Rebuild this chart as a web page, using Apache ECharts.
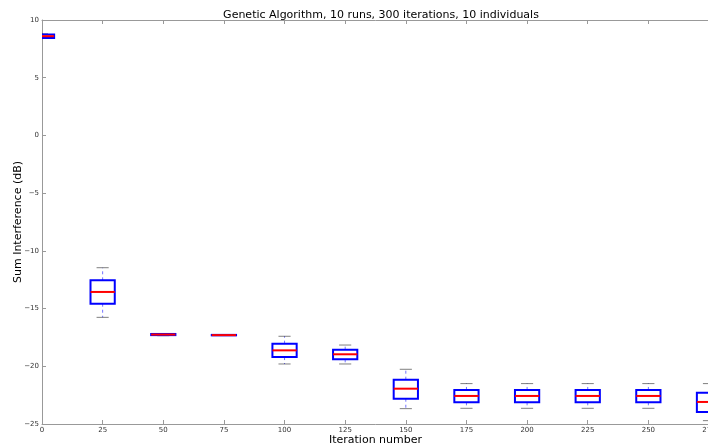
<!DOCTYPE html>
<html><head><meta charset="utf-8">
<script src="https://cdn.jsdelivr.net/npm/echarts@6/dist/echarts.min.js"></script>
<style>html,body{margin:0;padding:0;background:#fff}#c{width:708px;height:447px}</style>
</head><body><div id="c"></div>
<script>
const positions   = [0, 25, 50, 75, 100, 125, 150, 175, 200, 225, 250, 275];
const whiskerLow  = [8.40, -15.76, -17.35, -17.33, -19.80, -19.80, -23.67, -23.64, -23.64, -23.64, -23.64, -24.71];
const q1          = [8.45, -14.58, -17.30, -17.32, -19.20, -19.40, -22.81, -23.12, -23.12, -23.12, -23.12, -23.96];
const medians     = [8.60, -13.56, -17.25, -17.30, -18.62, -18.96, -21.94, -22.57, -22.57, -22.57, -22.57, -23.09];
const q3          = [8.75, -12.55, -17.20, -17.28, -18.04, -18.56, -21.16, -22.05, -22.05, -22.05, -22.05, -22.29];
const whiskerHigh = [8.80, -11.46, -17.18, -17.27, -17.40, -18.16, -20.26, -21.50, -21.50, -21.50, -21.50, -21.50];
const xTicks = [0, 25, 50, 75, 100, 125, 150, 175, 200, 225, 250, 275];
const yTicks = [-25, -20, -15, -10, -5, 0, 5, 10];
const boxWidth = 10;

const data = positions.map((p, i) => [p, whiskerLow[i], q1[i], medians[i], q3[i], whiskerHigh[i]]);
const FONT = 'DejaVu Sans';
const minus = v => String(v).replace('-', '\u2212');

const chart = echarts.init(document.getElementById('c'), null, {renderer: 'canvas'});
chart.setOption({
  animation: false,
  backgroundColor: '#fff',
  title: {
    text: 'Genetic Algorithm, 10 runs, 300 iterations, 10 individuals',
    left: 376, top: 5, textAlign: 'center',
    textStyle: {fontFamily: FONT, fontSize: 11, fontWeight: 'normal', color: '#000'}
  },
  grid: {left: 42, top: 20, width: 667, height: 404, containLabel: false, outerBoundsMode: 'none'},
  xAxis: [{
    type: 'value', min: 0, max: 275, interval: 25, position: 'bottom',
    name: 'Iteration number', nameLocation: 'middle', nameGap: 11, nameMoveOverlap: false,
    nameTextStyle: {fontFamily: FONT, fontSize: 11, color: '#000', verticalAlign: 'top'},
    axisLine: {show: true, onZero: false, lineStyle: {color: '#999', width: 1}},
    axisTick: {show: true, inside: true, length: 4, lineStyle: {color: '#999'}},
    axisLabel: {fontFamily: FONT, fontSize: 7, color: '#333', margin: 3,
      customValues: xTicks, formatter: v => minus(v)},
    splitLine: {show: false}
  }, {
    type: 'value', min: 0, max: 275, interval: 25, position: 'top',
    axisLine: {show: true, onZero: false, lineStyle: {color: '#999', width: 1}},
    axisTick: {show: true, inside: true, length: 4, lineStyle: {color: '#999'}},
    axisLabel: {show: false}, splitLine: {show: false}
  }],
  yAxis: [{
    type: 'value', min: -25, max: 10, interval: 5,
    name: 'Sum Interference (dB)', nameLocation: 'middle', nameGap: 18, nameRotate: 90,
    nameMoveOverlap: false,
    nameTextStyle: {fontFamily: FONT, fontSize: 11, color: '#000', verticalAlign: 'bottom'},
    axisLine: {show: true, onZero: false, lineStyle: {color: '#999', width: 1}},
    axisTick: {show: true, inside: true, length: 4, lineStyle: {color: '#999'}},
    axisLabel: {fontFamily: FONT, fontSize: 7, color: '#333', margin: 3,
      customValues: yTicks, formatter: v => minus(v)},
    splitLine: {show: false}
  }],
  series: [{
    type: 'custom',
    clip: true,
    data: data,
    encode: {x: 0, y: [1, 2, 3, 4, 5]},
    renderItem: function (params, api) {
      const x = api.value(0);
      const w = api.size([boxWidth, 0])[0];
      const cw = w / 2;
      const pLow = api.coord([x, api.value(1)]);
      const pQ1 = api.coord([x, api.value(2)]);
      const pMed = api.coord([x, api.value(3)]);
      const pQ3 = api.coord([x, api.value(4)]);
      const pHigh = api.coord([x, api.value(5)]);
      const cx = pQ1[0];
      const dash = {stroke: '#0000ff', lineWidth: 1, lineDash: [3, 3], opacity: 0.55};
      const cap = {stroke: '#000', lineWidth: 1, opacity: 0.5};
      return {
        type: 'group',
        children: [
          {type: 'line', shape: {x1: cx, y1: pQ1[1], x2: cx, y2: pLow[1]}, style: dash},
          {type: 'line', shape: {x1: cx, y1: pQ3[1], x2: cx, y2: pHigh[1]}, style: dash},
          {type: 'line', shape: {x1: cx - cw / 2, y1: pLow[1], x2: cx + cw / 2, y2: pLow[1]}, style: cap},
          {type: 'line', shape: {x1: cx - cw / 2, y1: pHigh[1], x2: cx + cw / 2, y2: pHigh[1]}, style: cap},
          {type: 'rect', shape: {x: cx - w / 2, y: pQ3[1], width: w, height: pQ1[1] - pQ3[1]},
            style: {fill: 'none', stroke: '#0000ff', lineWidth: 2}},
          {type: 'line', shape: {x1: cx - w / 2, y1: pMed[1], x2: cx + w / 2, y2: pMed[1]},
            style: {stroke: '#ff0000', lineWidth: 2}}
        ]
      };
    }
  }]
});
</script></body></html>
